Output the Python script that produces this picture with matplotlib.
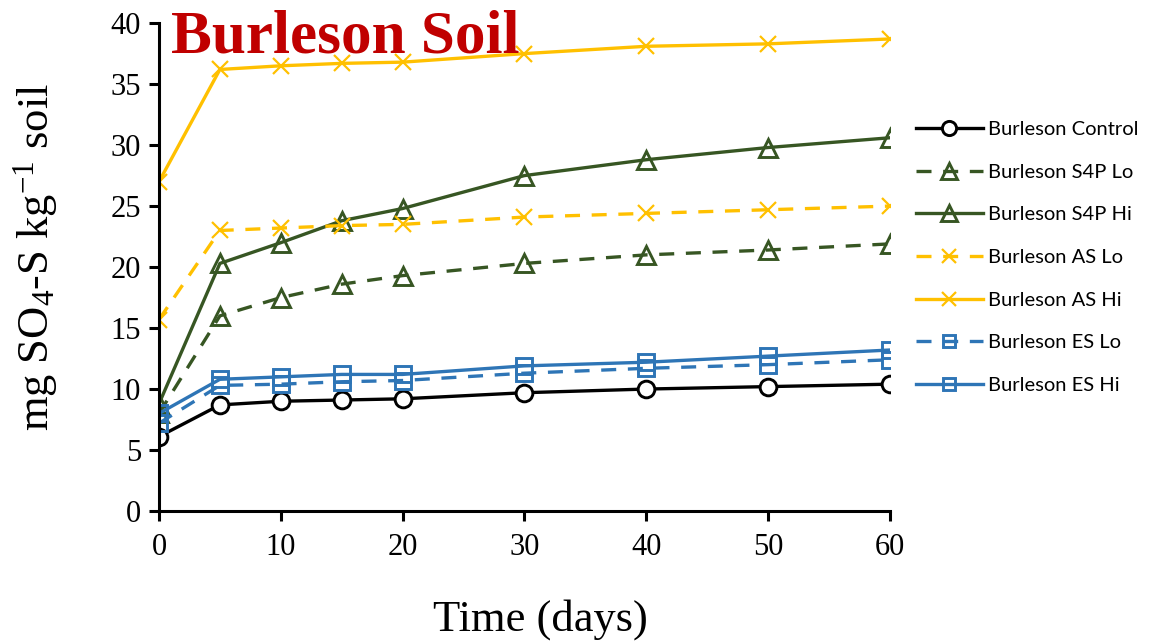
import matplotlib
matplotlib.use("Agg")
import matplotlib.pyplot as plt

plt.rcParams["mathtext.fontset"] = "custom"
plt.rcParams["mathtext.rm"] = "Liberation Serif"
plt.rcParams["mathtext.it"] = "Liberation Serif:italic"

days = [0, 5, 10, 15, 20, 30, 40, 50, 60]
control = [6.1, 8.7, 9.0, 9.1, 9.2, 9.7, 10.0, 10.2, 10.4]
s4p_lo = [8.0, 16.0, 17.5, 18.6, 19.3, 20.3, 21.0, 21.4, 21.9]
s4p_hi = [8.8, 20.3, 22.0, 23.8, 24.8, 27.5, 28.8, 29.8, 30.6]
as_lo = [15.7, 23.0, 23.2, 23.4, 23.5, 24.1, 24.4, 24.7, 25.0]
as_hi = [27.0, 36.2, 36.5, 36.7, 36.8, 37.5, 38.1, 38.3, 38.7]
es_lo = [7.2, 10.3, 10.4, 10.6, 10.7, 11.3, 11.7, 12.0, 12.4]
es_hi = [8.0, 10.8, 11.0, 11.2, 11.2, 11.9, 12.2, 12.7, 13.2]

labels = ["Burleson Control", "Burleson S4P Lo", "Burleson S4P Hi",
          "Burleson AS Lo", "Burleson AS Hi", "Burleson ES Lo", "Burleson ES Hi"]
xticks = [0, 10, 20, 30, 40, 50, 60]
yticks = [0, 5, 10, 15, 20, 25, 30, 35, 40]

black = "#000000"
green = "#375623"
gold = "#FFC000"
blue = "#2E75B6"

fig = plt.figure(figsize=(11.49, 6.42), dpi=100)
ax = fig.add_axes([0.1384, 0.204, 0.636, 0.760])

lw = 2.4
dash = (4.5, 3.5)
series = [
    (control, black, "-", "o", 12, "white"),
    (s4p_lo, green, "--", "^", 13, "none"),
    (s4p_hi, green, "-", "^", 13, "none"),
    (as_lo, gold, "--", "x", 12, "none"),
    (as_hi, gold, "-", "x", 12, "none"),
    (es_lo, blue, "--", "s", 11, "none"),
    (es_hi, blue, "-", "s", 11, "none"),
]
for (vals, col, ls, mk, ms, mfc), lab in zip(series, labels):
    kw = {}
    if ls == "--":
        kw["dashes"] = dash
    ax.plot(days, vals, color=col, linestyle=ls, lw=lw, marker=mk,
            markersize=ms, markerfacecolor=mfc, markeredgecolor=col,
            markeredgewidth=2.1 if mk != "x" else 1.6, label=lab, **kw)

ax.set_xlim(0, 60)
ax.set_ylim(0, 40)
ax.set_xticks(xticks)
ax.set_yticks(yticks)
ax.spines["top"].set_visible(False)
ax.spines["right"].set_visible(False)
for s in ("left", "bottom"):
    ax.spines[s].set_linewidth(2.2)
ax.tick_params(axis="both", direction="out", length=7, width=2.2,
               labelsize=22, pad=6)
ax.tick_params(axis="x", pad=9)
for t in ax.get_xticklabels() + ax.get_yticklabels():
    t.set_fontfamily("Liberation Serif")

ax.set_xlabel("Time (days)", fontsize=32, family="Liberation Serif")
ax.xaxis.set_label_coords(0.522, -0.18)
ax.set_ylabel(r"mg SO$_4$-S kg$^{-1}$ soil", fontsize=32,
              family="Liberation Serif")
ax.yaxis.set_label_coords(-0.135, 0.52)

ax.text(0.016, 0.94, "Burleson Soil", transform=ax.transAxes, fontsize=44,
        fontweight="bold", color="#C00000", family="Liberation Serif",
        va="baseline", ha="left")

leg = ax.legend(loc="upper left", bbox_to_anchor=(1.025, 0.816), frameon=False,
                prop={"family": "Lato", "size": 14.5}, handlelength=3.3,
                labelspacing=1.27, handletextpad=0.25, borderaxespad=0,
                markerscale=0.85)

fig.savefig("out.png", dpi=100)
